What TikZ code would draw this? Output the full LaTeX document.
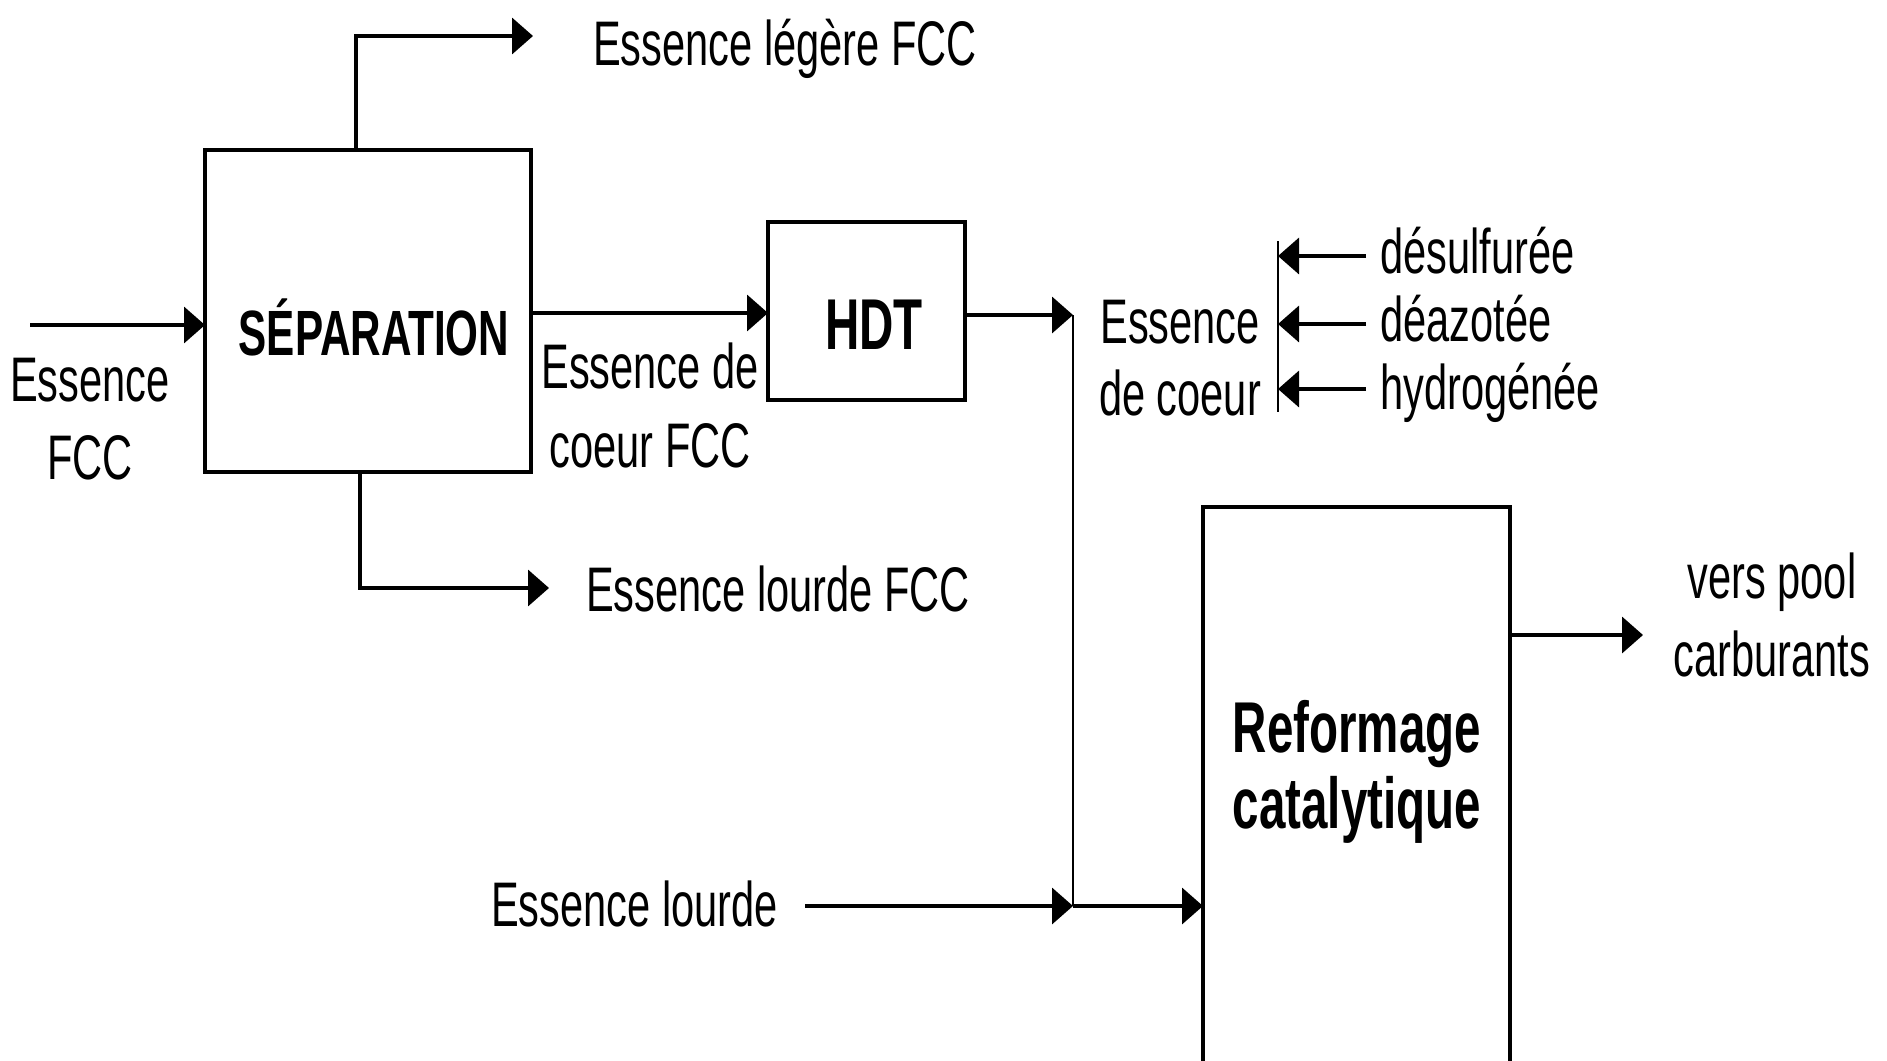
\documentclass[tikz,border=0pt]{standalone}
\usepackage{fontspec}
\setmainfont{Liberation Sans}[FakeStretch=0.66]
\usetikzlibrary{arrows.meta}
\begin{document}
\begin{tikzpicture}[x=1pt,y=-1pt,
  arr/.style={line width=3.6pt,-{Triangle[length=21pt,width=36pt]}},
  thinln/.style={line width=2.4pt},
  box/.style={draw,line width=3.2pt,inner sep=0pt,outer sep=0pt},
  txt/.style={font=\fontsize{63}{72}\selectfont,inner sep=0pt,anchor=base},
  txtw/.style={txt,anchor=base west},
  btxt/.style={font=\bfseries\fontsize{72}{80}\selectfont,inner sep=0pt,anchor=base},
]
\useasboundingbox (0,0) rectangle (1887,1060);
\clip (0,0) rectangle (1887,1060);

% boxes
\node[box,minimum width=326pt,minimum height=322pt] (sep) at (368,311) {};
\node[box,minimum width=197pt,minimum height=178pt] (hdt) at (866.5,311) {};
\node[box,minimum width=307pt,minimum height=568pt] (ref) at (1356.5,791) {};

% box labels
\node[btxt,font=\bfseries\fontsize{64}{72}\selectfont] (septxt) at (374,355) {SÉPARATION};
\node[btxt] (hdttxt) at (874,349) {HDT};
\node[btxt] (reftxt1) at (1357,752) {Reformage};
\node[btxt] (reftxt2) at (1357,828) {catalytique};

% texts
\node[txtw] (legere) at (593,65) {Essence légère FCC};
\node[txt] (inA) at (90,401) {Essence};
\node[txt] (inB) at (90,479) {FCC};
\node[txt] (coeurA) at (650,388) {Essence de};
\node[txt] (coeurB) at (650,467) {coeur FCC};
\node[txtw] (lourdeF) at (586,611) {Essence lourde FCC};
\node[txtw] (lourde) at (491,926) {Essence lourde};
\node[txt] (ecA) at (1180,343) {Essence};
\node[txt] (ecB) at (1180,415) {de coeur};
\node[txtw] (desulf) at (1380,273) {désulfurée};
\node[txtw] (deazo) at (1380,341) {déazotée};
\node[txtw] (hydro) at (1380,409) {hydrogénée};
\node[txt] (versA) at (1772,598) {vers pool};
\node[txt] (versB) at (1772,676) {carburants};

% coordinates
\coordinate (inF) at (30,325);
\coordinate (legT) at (533,36);
\coordinate (lourdT) at (549,588);
\coordinate (jn) at (1073,315);
\coordinate (jb) at (1073,906);
\coordinate (lourdS) at (805,906);
\coordinate (outT) at (1643,635);
\coordinate (brT) at (1278,241);
\coordinate (brB) at (1278,412);
\coordinate (d1) at (1366,256);
\coordinate (d2) at (1366,324);
\coordinate (d3) at (1366,389);

% connectors
\draw[arr] (inF) -- (inF -| sep.west);
\draw[arr] ([xshift=-12pt]sep.north) |- (legT);
\draw[arr] ([xshift=-8pt]sep.south) |- (lourdT);
\draw[arr] (sep.east |- 0,313) -- (hdt.west |- 0,313);
\draw[arr] (hdt.east |- jn) -- (jn);
\draw[thinln] (jn) -- (jb);
\draw[arr] (lourdS) -- (jb);
\draw[arr] (jb) -- (jb -| ref.west);
\draw[arr] (ref.east |- outT) -- (outT);
\draw[thinln] (brT) -- (brB);
\draw[arr] (d1) -- (d1 -| brT);
\draw[arr] (d2) -- (d2 -| brT);
\draw[arr] (d3) -- (d3 -| brT);
\end{tikzpicture}
\end{document}
